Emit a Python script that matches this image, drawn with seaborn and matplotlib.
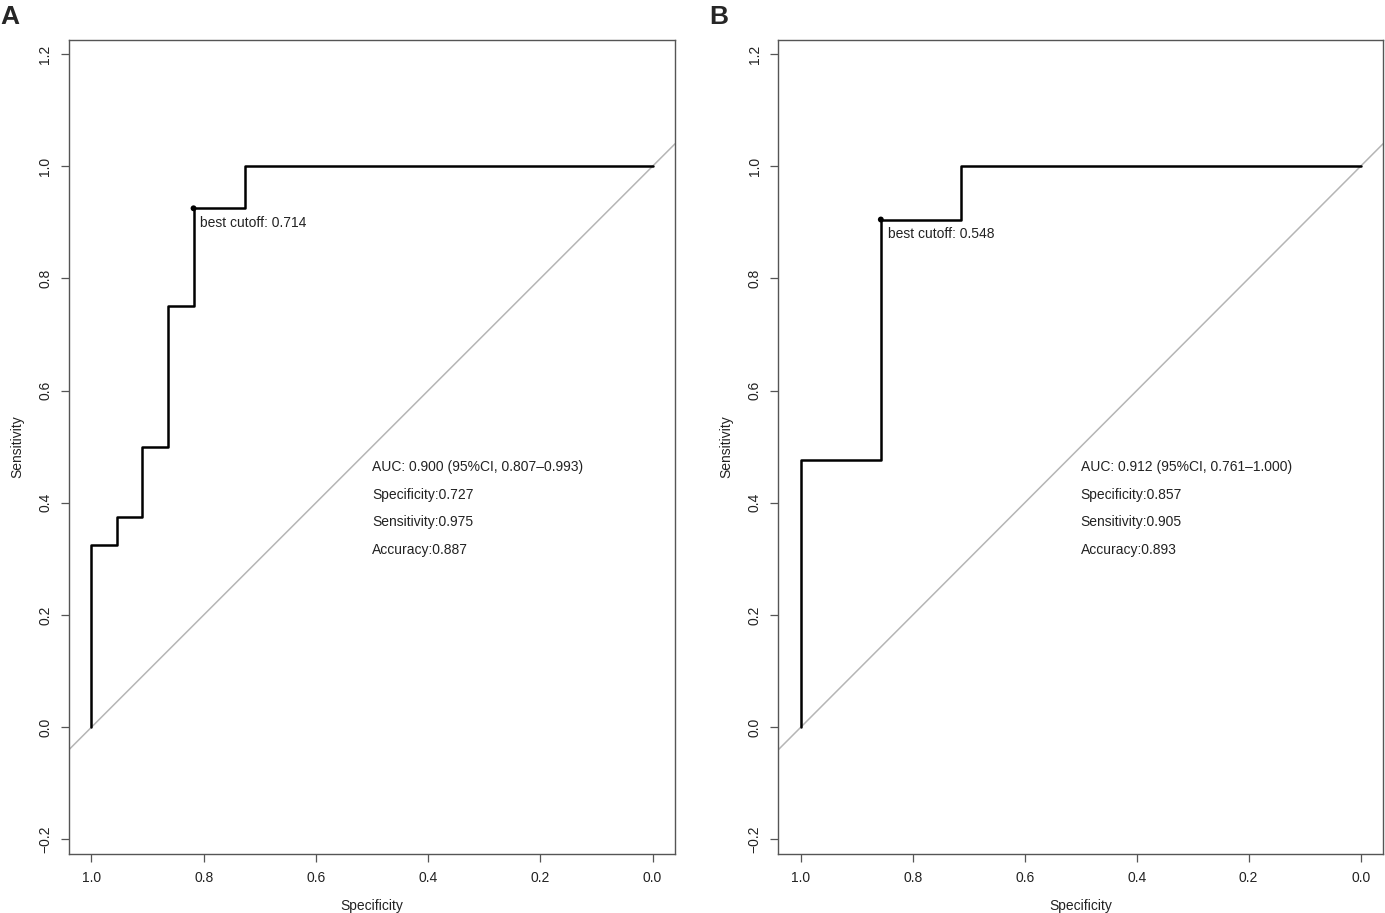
import matplotlib
matplotlib.use('Agg')
import matplotlib.pyplot as plt
import seaborn as sns

# ROC coordinates (specificity, sensitivity)
spec_a = [1.000, 1.000, 0.955, 0.955, 0.909, 0.909, 0.864, 0.864, 0.818, 0.818, 0.727, 0.727, 0.000]
sens_a = [0.000, 0.325, 0.325, 0.375, 0.375, 0.500, 0.500, 0.750, 0.750, 0.925, 0.925, 1.000, 1.000]
spec_b = [1.000, 1.000, 0.857, 0.857, 0.714, 0.714, 0.000]
sens_b = [0.000, 0.476, 0.476, 0.905, 0.905, 1.000, 1.000]

# best cutoff points
best_a = (0.818, 0.925)
best_b = (0.857, 0.905)
cutoff_a = 'best cutoff: 0.714'
cutoff_b = 'best cutoff: 0.548'

# summary texts
info_a = ['AUC: 0.900 (95%CI, 0.807\u20130.993)', 'Specificity:0.727',
          'Sensitivity:0.975', 'Accuracy:0.887']
info_b = ['AUC: 0.912 (95%CI, 0.761\u20131.000)', 'Specificity:0.857',
          'Sensitivity:0.905', 'Accuracy:0.893']

ticks = [1.0, 0.8, 0.6, 0.4, 0.2, 0.0]
yticks = [-0.2, 0.0, 0.2, 0.4, 0.6, 0.8, 1.0, 1.2]

sns.set_theme(style='ticks')
plt.rcParams['font.family'] = ['Liberation Sans', 'DejaVu Sans']
plt.rcParams['axes.unicode_minus'] = True

fig = plt.figure(figsize=(13.85, 9.13), dpi=100)
ax_a = fig.add_axes([0.0498, 0.0646, 0.4376, 0.8916])
ax_b = fig.add_axes([0.5620, 0.0646, 0.4366, 0.8916])

panels = [(ax_a, spec_a, sens_a, best_a, cutoff_a, info_a, 'A', 0.0),
          (ax_b, spec_b, sens_b, best_b, cutoff_b, info_b, 'B', 0.512)]

for ax, spec, sens, best, cutoff, info, letter, lx in panels:
    # chance diagonal
    ax.axline((1.0, 0.0), (0.0, 1.0), color='#b5b5b5', lw=1.1, zorder=1)
    # ROC curve
    sns.lineplot(x=spec, y=sens, sort=False, estimator=None, color='black',
                 lw=1.8, ax=ax, zorder=3)
    sns.scatterplot(x=[best[0]], y=[best[1]], color='black', s=18,
                    edgecolor='none', ax=ax, zorder=4)
    ax.text(best[0] - 0.012, best[1] - 0.014, cutoff, fontsize=10,
            ha='left', va='top', color='#222222')
    for i, s in enumerate(info):
        ax.text(0.5, 0.463 - 0.049 * i, s, fontsize=10, ha='left',
                va='center', color='#222222')

    ax.set_xlim(1.04, -0.04)
    ax.set_ylim(-0.226, 1.225)
    ax.set_xticks(ticks)
    ax.set_xticklabels(['%.1f' % t for t in ticks])
    ax.set_yticks(yticks)
    ax.set_yticklabels([('%.1f' % t).replace('-', '\u2212') for t in yticks],
                       rotation=90, va='center')
    ax.tick_params(axis='both', direction='out', length=6, width=0.9,
                   color='#555555', labelsize=10, labelcolor='#222222', pad=6)
    for sp in ax.spines.values():
        sp.set_visible(True)
        sp.set_color('#555555')
        sp.set_linewidth(1.0)
    ax.set_xlabel('Specificity', fontsize=10, color='#222222', labelpad=10)
    ax.set_ylabel('Sensitivity', fontsize=10, color='#222222', labelpad=10)
    fig.text(lx, 0.995, letter, fontsize=19, fontweight='bold', ha='left',
             va='top', family=['Liberation Sans', 'DejaVu Sans'])

fig.savefig('out.png', dpi=100, facecolor='white')
